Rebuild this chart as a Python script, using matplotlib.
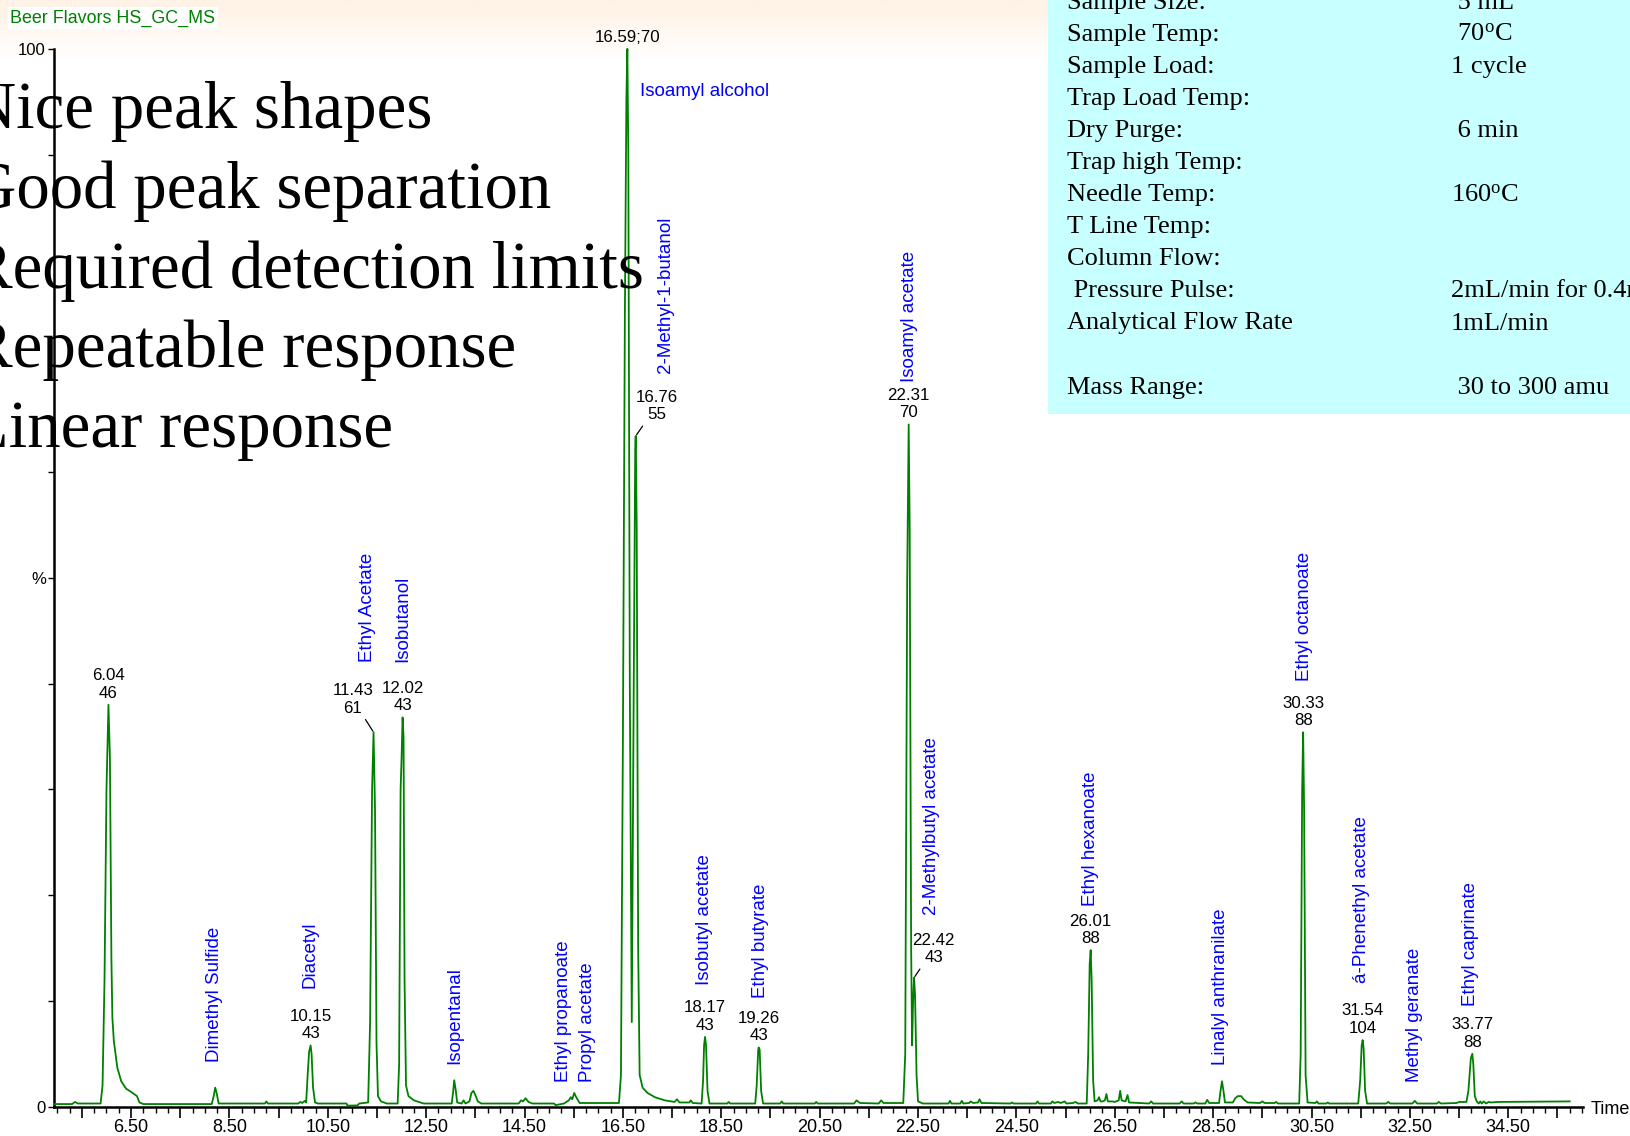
import matplotlib
matplotlib.use("Agg")
import matplotlib.pyplot as plt
import numpy as np
from matplotlib.ticker import FixedLocator, MultipleLocator, FuncFormatter

# ---------------- data ----------------
TIME = [4.935, 5.30, 5.36, 5.42, 5.88, 5.92, 5.96, 6.00, 6.04, 6.07, 6.10, 6.12, 6.15, 6.22, 6.30,
        6.40, 6.50, 6.62, 6.67, 6.75, 8.14, 8.18, 8.21, 8.24, 8.28, 9.22, 9.25, 9.28, 9.90, 9.94,
        9.98, 10.03, 10.06, 10.09, 10.12, 10.15, 10.17, 10.20, 10.24, 10.30, 10.88, 10.90, 11.10, 11.14,
        11.32, 11.36, 11.40, 11.43, 11.46, 11.49, 11.52, 11.58, 11.70, 11.92, 11.95, 11.98, 12.00, 12.02,
        12.04, 12.06, 12.09, 12.14, 12.25, 12.45, 13.02, 13.05, 13.07, 13.10, 13.13, 13.22, 13.26, 13.30,
        13.38, 13.42, 13.46, 13.50, 13.55, 13.62, 14.38, 14.43, 14.47, 14.52, 14.58, 14.66, 15.10, 15.13,
        15.30, 15.40, 15.44, 15.47, 15.51, 15.55, 15.62, 16.42, 16.46, 16.50, 16.54, 16.57, 16.59, 16.61,
        16.64, 16.68, 16.72, 16.75, 16.76, 16.78, 16.81, 16.84, 16.90, 17.00, 17.15, 17.35, 17.55, 17.60,
        17.65, 17.85, 17.88, 17.92, 18.10, 18.13, 18.15, 18.17, 18.19, 18.22, 18.26, 18.62, 18.65, 18.68,
        19.19, 19.22, 19.25, 19.26, 19.28, 19.31, 19.35, 19.70, 19.73, 19.76, 20.40, 20.43, 20.46, 21.20,
        21.25, 21.32, 21.70, 21.75, 21.80, 22.20, 22.24, 22.28, 22.31, 22.33, 22.36, 22.38, 22.40, 22.42,
        22.44, 22.47, 22.50, 22.60, 23.12, 23.15, 23.18, 23.36, 23.39, 23.42, 23.54, 23.57, 23.62, 23.72,
        23.75, 23.79, 24.38, 24.41, 24.44, 24.90, 24.93, 24.96, 25.20, 25.23, 25.27, 25.35, 25.40, 25.48,
        25.52, 25.65, 25.70, 25.75, 25.93, 25.96, 25.99, 26.01, 26.03, 26.06, 26.09, 26.15, 26.18, 26.21,
        26.26, 26.30, 26.33, 26.36, 26.45, 26.50, 26.58, 26.61, 26.64, 26.72, 26.76, 26.79, 27.20, 27.24,
        27.28, 27.82, 27.86, 27.90, 28.10, 28.14, 28.18, 28.34, 28.38, 28.42, 28.62, 28.65, 28.68, 28.71,
        28.74, 28.90, 28.95, 29.00, 29.07, 29.12, 29.20, 29.45, 29.50, 29.55, 29.75, 29.78, 29.82, 30.25,
        30.28, 30.31, 30.33, 30.35, 30.38, 30.42, 30.58, 30.61, 30.64, 30.80, 30.83, 30.86, 31.45, 31.49,
        31.52, 31.54, 31.56, 31.59, 31.63, 32.02, 32.06, 32.10, 32.55, 32.60, 32.65, 33.05, 33.09, 33.13,
        33.45, 33.50, 33.65, 33.69, 33.74, 33.77, 33.79, 33.82, 33.86, 33.90, 33.93, 33.96, 34.00, 34.05,
        34.10, 34.15, 34.30, 35.75]
INTENSITY = [0.25, 0.25, 0.45, 0.30, 0.30, 2.0, 12.0, 30.0, 38.0, 33.0, 14.0, 8.4, 6.2, 3.7, 2.4,
             1.7, 1.4, 1.0, 0.4, 0.25, 0.25, 1.0, 1.8, 1.3, 0.3, 0.3, 0.5, 0.3, 0.30, 0.45,
             0.35, 0.55, 0.4, 3.0, 5.2, 5.8, 5.0, 1.8, 0.4, 0.3, 0.3, 0.1, 0.12, 0.3,
             0.4, 8.0, 30.0, 35.4, 28.0, 6.0, 1.0, 0.5, 0.3, 0.3, 4.0, 30.0, 33.0, 36.8,
             35.0, 12.0, 2.0, 1.0, 0.6, 0.3, 0.3, 1.5, 2.5, 1.6, 0.4, 0.3, 0.6, 0.3,
             0.5, 1.3, 1.5, 1.1, 0.5, 0.3, 0.3, 0.6, 0.5, 0.8, 0.45, 0.3, 0.3, 0.15,
             0.3, 0.6, 0.9, 0.7, 1.3, 0.9, 0.35, 0.35, 3.0, 35.0, 75.0, 95.0, 100.0, 90.0,
             40.0, 8.0, 40.0, 62.0, 63.4, 55.0, 15.0, 3.0, 1.8, 1.3, 0.9, 0.6, 0.45, 0.7,
             0.4, 0.4, 0.6, 0.35, 0.3, 2.5, 5.8, 6.6, 5.8, 1.5, 0.3, 0.3, 0.45, 0.3,
             0.3, 2.0, 5.3, 5.6, 5.4, 1.5, 0.3, 0.3, 0.5, 0.3, 0.3, 0.45, 0.3, 0.3,
             0.6, 0.35, 0.3, 0.6, 0.35, 0.35, 5.0, 50.0, 64.5, 55.0, 15.0, 5.8, 10.0, 12.2,
             10.5, 3.0, 0.5, 0.3, 0.3, 0.55, 0.3, 0.3, 0.55, 0.3, 0.35, 0.5, 0.35, 0.4,
             0.7, 0.35, 0.3, 0.4, 0.3, 0.3, 0.5, 0.3, 0.3, 0.5, 0.35, 0.45, 0.35, 0.5,
             0.3, 0.35, 0.45, 0.3, 0.3, 5.0, 13.5, 14.8, 12.0, 2.5, 0.5, 0.6, 0.9, 0.5,
             0.5, 0.6, 1.2, 0.5, 0.5, 0.45, 0.6, 1.5, 0.6, 0.5, 1.1, 0.4, 0.3, 0.5,
             0.3, 0.3, 0.5, 0.3, 0.3, 0.4, 0.3, 0.3, 0.65, 0.35, 0.35, 1.5, 2.4, 1.5,
             0.4, 0.4, 0.8, 1.0, 1.0, 0.7, 0.4, 0.35, 0.5, 0.35, 0.35, 0.45, 0.3, 0.3,
             5.0, 30.0, 35.4, 28.0, 3.0, 0.4, 0.35, 0.5, 0.3, 0.3, 0.4, 0.3, 0.3, 2.5,
             5.8, 6.3, 5.5, 1.5, 0.3, 0.3, 0.45, 0.3, 0.3, 0.55, 0.3, 0.3, 0.45, 0.3,
             0.35, 0.45, 0.45, 1.5, 4.6, 5.0, 4.0, 1.0, 0.5, 0.3, 0.5, 0.3, 0.5, 0.3,
             0.45, 0.4, 0.45, 0.5]

PEAK_RT = [6.04, 10.15, 11.43, 12.02, 16.59, 16.76, 18.17, 19.26, 22.31, 22.42, 26.01, 30.33, 31.54, 33.77]
PEAK_ION = [46, 43, 61, 43, 70, 55, 43, 43, 70, 43, 88, 88, 104, 88]
PEAK_HEIGHT = [38.0, 5.8, 35.4, 36.8, 100.0, 63.4, 6.6, 5.6, 64.5, 12.2, 14.8, 35.4, 6.3, 5.0]

COMPOUNDS = ["Dimethyl Sulfide", "Diacetyl", "Ethyl Acetate", "Isobutanol", "Isopentanal",
             "Ethyl propanoate", "Propyl acetate", "2-Methyl-1-butanol", "Isobutyl acetate",
             "Ethyl butyrate", "Isoamyl acetate", "2-Methylbutyl acetate", "Ethyl hexanoate",
             "Linalyl anthranilate", "Ethyl octanoate", "á-Phenethyl acetate", "Methyl geranate",
             "Ethyl caprinate"]
HORIZONTAL_COMPOUND = "Isoamyl alcohol"

X_TICK_LABELS = ["6.50", "8.50", "10.50", "12.50", "14.50", "16.50", "18.50", "20.50",
                 "22.50", "24.50", "26.50", "28.50", "30.50", "32.50", "34.50"]
Y_TICK_LABELS = {0: "0", 50: "%", 100: "100"}

TITLE = "Beer Flavors HS_GC_MS"
BULLETS = ["Nice peak shapes", "Good peak separation", "Required detection limits",
           "Repeatable response", "Linear response"]
PARAM_NAMES = ["Sample Size:", "Sample Temp:", "Sample Load:", "Trap Load Temp:", "Dry Purge:",
               "Trap high Temp:", "Needle Temp:", "T Line Temp:", "Column Flow:", " Pressure Pulse:",
               "Analytical Flow Rate", "", "Mass Range:"]
PARAM_VALUES = [" 5 mL", r" 70$\mathregular{^o}$C", "1 cycle", "", " 6 min", "",
                r"160$\mathregular{^o}$C", "", "", "2mL/min for 0.4min", "1mL/min", "",
                " 30 to 300 amu"]

# ---------------- layout (positions / styles) ----------------
W, H = 1631, 1136
# label anchors for compound names: (time, % of bottom of rotated text)
COMPOUND_ANCHOR = [(8.19, 4.2), (10.14, 11.2), (11.30, 42.0), (12.02, 42.0), (13.08, 4.0),
                   (15.30, 2.3), (15.78, 2.3), (17.37, 69.4), (18.15, 11.5), (19.29, 10.3),
                   (22.32, 68.5), (22.78, 18.1), (26.00, 19.0), (28.64, 3.9), (30.35, 40.2),
                   (31.52, 11.7), (32.59, 2.3), (33.74, 9.5)]
HORIZONTAL_ANCHOR = (16.84, 96.0)
LABEL_OFFSET = [(0, 3), (0, 3), (-15, 12), (0, 3), (0, 3), (15, 10), (0, 3), (0, 3), (0, 3),
                (14, 9), (0, 3), (0, 3), (0, 3), (0, 3)]

GREEN = "#008000"
BLUE = "#0000ff"
plt.rcParams["font.family"] = ["Liberation Sans", "DejaVu Sans"]

def fx(px):
    return px / W

def fy(py):
    return 1 - py / H

fig = plt.figure(figsize=(W / 100, H / 100), dpi=100)

# background with a faint peach band at the top
bg = fig.add_axes([0, 0, 1, 1])
bg.set_axis_off()
rows = np.arange(H)
frac = np.clip((rows - 5) / 55.0, 0, 1)[:, None]
peach = np.array([255, 242, 230]) / 255.0
grad = peach[None, :] * (1 - frac) + np.ones(3)[None, :] * frac
grad = np.repeat(grad[:, None, :], 4, axis=1)
bg.imshow(grad, aspect="auto", extent=[0, 1, 0, 1], interpolation="bilinear")
bg.set_xlim(0, 1)
bg.set_ylim(0, 1)

# main chromatogram axes
left, right, top, bottom = 54.1, 1583.0, 48.9, 1106.7
ax = fig.add_axes([fx(left), fy(bottom), fx(right - left), (bottom - top) / H])
ax.patch.set_alpha(0)
ax.plot(TIME, INTENSITY, color=GREEN, lw=1.3, clip_on=False, zorder=3)
ax.set_xlim(4.935, 36.02)
ax.set_ylim(0, 100)
for s in ["top", "right"]:
    ax.spines[s].set_visible(False)
for s in ["left", "bottom"]:
    ax.spines[s].set_linewidth(1.8)

label_pos = [float(v) for v in X_TICK_LABELS]
ax.xaxis.set_major_locator(FixedLocator(list(np.arange(5.5, 36.0, 1.0))))
ax.xaxis.set_minor_locator(MultipleLocator(0.25))
ax.xaxis.set_major_formatter(FuncFormatter(
    lambda v, p: X_TICK_LABELS[label_pos.index(round(v, 2))] if round(v, 2) in label_pos else ""))
ax.tick_params(axis="x", which="major", length=8, width=1.2, pad=0.5, labelsize=13, direction="out")
ax.tick_params(axis="x", which="minor", length=4.3, width=1.0, direction="out")
ax.yaxis.set_major_locator(FixedLocator(list(range(0, 101, 10))))
ax.yaxis.set_major_formatter(FuncFormatter(lambda v, p: Y_TICK_LABELS.get(int(round(v)), "")))
ax.tick_params(axis="y", which="major", length=4, width=1.0, pad=2, labelsize=12)

# peak annotations
for rt, ion, h, off in zip(PEAK_RT, PEAK_ION, PEAK_HEIGHT, LABEL_OFFSET):
    txt = f"{rt:.2f};{ion}" if h >= 99.9 else f"{rt:.2f}\n{ion}"
    kw = {}
    if off[0] != 0:
        kw["arrowprops"] = dict(arrowstyle="-", color="black", lw=0.9, shrinkA=1, shrinkB=1)
    ax.annotate(txt, xy=(rt, h), xytext=off, textcoords="offset points", ha="center",
                va="bottom", fontsize=12.2, color="black", linespacing=1.2,
                annotation_clip=False, **kw)

# compound names
for name, (t, y) in zip(COMPOUNDS, COMPOUND_ANCHOR):
    ax.text(t, y, name, rotation=90, ha="center", va="bottom", color=BLUE, fontsize=13.5,
            clip_on=False)
ax.text(HORIZONTAL_ANCHOR[0], HORIZONTAL_ANCHOR[1], HORIZONTAL_COMPOUND, ha="left",
        va="center", color=BLUE, fontsize=13.5, clip_on=False)

fig.text(fx(1591), fy(1109), "Time", ha="left", va="center", fontsize=13)

# title
fig.text(fx(10.4), fy(18), TITLE, color=GREEN, fontsize=12.9, ha="left", va="center",
         bbox=dict(facecolor="white", edgecolor="none", pad=2))

# big serif bullet text
for i, line in enumerate(BULLETS):
    fig.text(fx(-31.6), fy(128 + 79.8 * i), line, fontsize=48.2, family="Liberation Serif",
             ha="left", va="baseline", color="black")

# cyan parameter box
box = fig.add_axes([fx(1048), fy(414), 1 - fx(1048), 414 / H])
box.set_facecolor("#c8ffff")
box.set_xticks([])
box.set_yticks([])
for s in box.spines.values():
    s.set_visible(False)
for i, (n, v) in enumerate(zip(PARAM_NAMES, PARAM_VALUES)):
    yb = 1 + 32.05 * i + 8.0
    if n:
        fig.text(fx(1067), fy(yb), n, fontsize=19, family="Liberation Serif",
                 ha="left", va="baseline")
    if v:
        fig.text(fx(1451), fy(yb), v, fontsize=19, family="Liberation Serif",
                 ha="left", va="baseline")

fig.savefig("out.png", dpi=100)
